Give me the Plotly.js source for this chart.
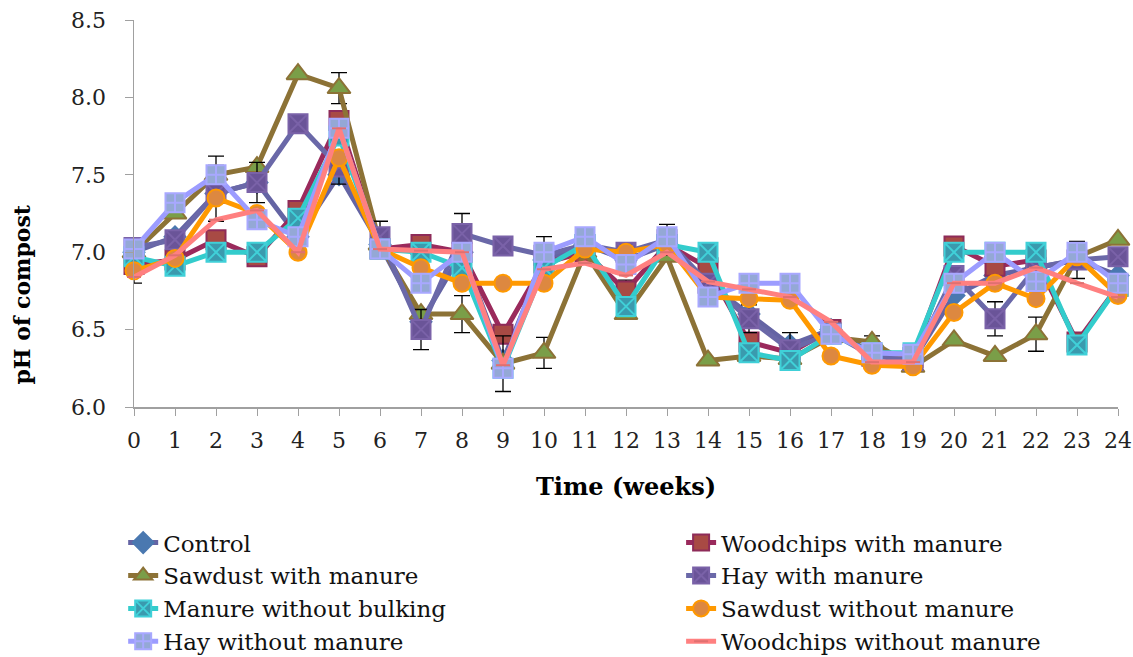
<!DOCTYPE html>
<html>
<head>
<meta charset="utf-8">
<script src="https://cdn.plot.ly/plotly-3.0.1.min.js"></script>
<style>html,body{margin:0;padding:0;background:#fff;}#chart{width:1133px;height:657px;}</style>
</head>
<body>
<div id="chart"></div>
<script>
const weeks = [0,1,2,3,4,5,6,7,8,9,10,11,12,13,14,15,16,17,18,19,20,21,22,23,24];

const control =              [7.00,7.10,7.38,7.45,7.10,7.50,7.05,6.55,7.00,6.30,6.95,7.05,6.95,7.05,6.80,6.60,6.40,6.50,6.35,6.30,6.72,6.85,6.90,6.95,6.85];
const woodchipsWithManure =  [6.92,6.95,7.08,6.97,7.27,7.85,7.02,7.05,7.00,6.47,6.93,7.00,6.75,7.05,6.90,6.42,6.35,6.50,6.33,6.32,7.04,6.91,6.95,6.42,6.78];
const sawdustWithManure =    [7.00,7.25,7.50,7.55,8.15,8.06,7.05,6.60,6.60,6.28,6.35,7.00,6.60,6.97,6.30,6.33,6.31,6.45,6.42,6.26,6.43,6.33,6.47,6.97,7.08];
const hayWithManure =        [7.03,7.08,7.38,7.45,7.83,7.55,7.10,6.50,7.12,7.04,6.98,7.05,7.00,7.08,6.80,6.57,6.37,6.48,6.33,6.30,6.85,6.57,6.90,6.95,6.97];
const manureWithoutBulking = [6.97,6.91,7.00,7.00,7.22,7.75,7.02,7.00,6.90,6.25,6.90,7.05,6.65,7.05,7.00,6.35,6.30,6.47,6.35,6.35,7.00,7.00,7.00,6.40,6.78];
const sawdustWithoutManure = [6.88,6.96,7.35,7.25,7.00,7.61,7.02,6.90,6.80,6.80,6.80,7.02,7.00,7.05,6.71,6.70,6.69,6.33,6.27,6.26,6.61,6.80,6.70,6.97,6.72];
const hayWithoutManure =     [7.02,7.32,7.50,7.21,7.10,7.80,7.02,6.80,7.00,6.25,7.00,7.10,6.92,7.10,6.71,6.80,6.80,6.47,6.35,6.34,6.80,7.00,6.81,7.00,6.80];
const woodchipsWithoutManure=[6.84,6.98,7.21,7.27,7.00,7.80,7.02,7.01,7.00,6.27,6.89,6.93,6.85,7.00,6.81,6.76,6.71,6.55,6.29,6.29,6.80,6.80,6.90,6.80,6.71];

// standard errors (visible ones only)
const errSawdustWithManure = [null,null,0.12,null,null,0.10,null,null,0.12,0.18,0.10,null,null,null,null,null,null,null,0.04,null,null,null,0.11,null,null];
const errHayWithManure =     [null,null,0.18,0.13,null,0.11,0.10,0.13,0.13,null,0.12,null,null,0.10,null,0.09,0.11,null,null,null,null,0.11,null,0.12,null];
const errWoodchipsWithManure=[0.12,null,null,null,null,null,null,null,null,null,null,null,0.07,null,null,null,null,null,null,null,null,null,null,null,null];

const seriesNames = ["Control","Woodchips with manure","Sawdust with manure","Hay with manure","Manure without bulking","Sawdust without manure","Hay without manure","Woodchips without manure"];
const xTitle = 'Time (weeks)';
const yTitle = 'pH of compost';

const styles = [
  {line:'#6464a4', sym:'diamond', fill:'#4a78b0', mline:'#4a78b0', size:16},
  {line:'#9a2a5c', sym:'square', fill:'#a84a44', mline:'#8e2b58', size:19},
  {line:'#8c7236', sym:'triangle-up', fill:'#7a9e48', mline:'#8c7236', size:20},
  {line:'#6a68a8', sym:'square-x', fill:'#6a5498', mline:'#7a62a8', size:19},
  {line:'#33cccc', sym:'square-x', fill:'#3a9aae', mline:'#40d0d8', size:19},
  {line:'#ff9900', sym:'circle', fill:'#dd8840', mline:'#ff9900', size:17},
  {line:'#9c9cff', sym:'square-cross', fill:'#94a8d6', mline:'#a8a8ff', size:19},
  {line:'#ff8080', sym:'line-ew', fill:'#ff8080', mline:'#e07070', size:10}
];
const values = [control, woodchipsWithManure, sawdustWithManure, hayWithManure, manureWithoutBulking, sawdustWithoutManure, hayWithoutManure, woodchipsWithoutManure];
const errs = [null, errWoodchipsWithManure, errSawdustWithManure, errHayWithManure, null, null, null, null];

const traces = values.map((v,i)=>{
  const s = styles[i];
  const t = {
    x: weeks, y: v, name: seriesNames[i], type:'scatter', mode:'lines+markers',
    cliponaxis:false, legendgroup:'g'+i,
    legend: (i % 2 === 0) ? 'legend' : 'legend2',
    line:{color:s.line, width:5},
    marker:{symbol:s.sym, size:s.size, color:s.fill, line:{color:s.mline, width:2}}
  };
  if (errs[i]) t.error_y = {type:'data', array:errs[i], visible:true, color:'#000', thickness:1.3, width:8};
  return t;
});

const serif = 'DejaVu Serif, Liberation Serif, serif';
const legendBase = {
  orientation:'v', yanchor:'top', xanchor:'left', y:-0.295,
  font:{family:serif, size:23, color:'#111'},
  bgcolor:'rgba(0,0,0,0)', traceorder:'normal', tracegroupgap:3
};
const layout = {
  width:1133, height:657,
  margin:{l:134, r:15, t:20, b:249.5, autoexpand:false},
  paper_bgcolor:'#fff', plot_bgcolor:'#fff',
  showlegend:true,
  font:{family:serif, color:'#222', size:22},
  xaxis:{
    range:[0,24], tickmode:'linear', tick0:0, dtick:1,
    showgrid:false, zeroline:false, showline:true, linecolor:'#a0a0a0', linewidth:1.5,
    ticks:'outside', ticklen:7, tickcolor:'#a0a0a0', ticklabelstandoff:6,
    tickfont:{family:serif, size:22, color:'#222'},
    title:{text:'<b>' + xTitle + '</b>', font:{family:serif, size:24, color:'#000'}, standoff:26}
  },
  yaxis:{
    range:[6,8.5], tickmode:'linear', tick0:6, dtick:0.5, tickformat:'.1f',
    showgrid:false, zeroline:false, showline:true, linecolor:'#a0a0a0', linewidth:1.5,
    ticks:'outside', ticklen:8, tickcolor:'#a0a0a0', ticklabelstandoff:14,
    tickfont:{family:serif, size:22, color:'#222'}
  },
  annotations:[{
    text:'<b>' + yTitle + '</b>', textangle:-90, showarrow:false,
    xref:'paper', yref:'paper', x:-0.114, y:0.29, xanchor:'center', yanchor:'middle',
    font:{family:serif, size:22, color:'#000'}
  }],
  legend: Object.assign({}, legendBase, {x:-0.011}),
  legend2: Object.assign({}, legendBase, {x:0.556})
};
Plotly.newPlot('chart', traces, layout, {displayModeBar:false, staticPlot:true});
</script>
</body>
</html>
